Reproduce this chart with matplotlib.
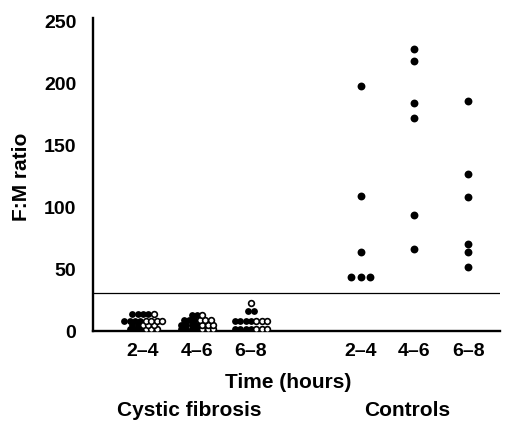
import numpy as np
import matplotlib.pyplot as plt

plt.rcParams['font.family'] = ['Liberation Sans', 'DejaVu Sans']
plt.rcParams['font.weight'] = 'bold'

# group positions and labels
positions = [1, 2, 3, 5.03, 6.02, 7.02]
tick_labels = ["2\u20134", "4\u20136", "6\u20138", "2\u20134", "4\u20136", "6\u20138"]

# cystic fibrosis F:M ratios (filled and open symbols)
cf_24_filled = [14, 14, 14, 14, 8, 8, 8, 8, 5, 5, 2, 2, 2]
cf_24_open = [14, 8, 8, 8, 8, 5, 5, 5, 2, 2, 2]
cf_46_filled = [13, 13, 9, 9, 9, 5, 5, 5, 5, 2, 2, 2, 2]
cf_46_open = [13, 9, 9, 9, 5, 5, 5, 2, 2, 2]
cf_68_filled = [16, 16, 8, 8, 8, 8, 2, 2, 2, 2]
cf_68_open = [23, 8, 8, 8, 2, 2, 2]

# controls
ctl_24 = [198, 109, 64, 44, 44, 44]
ctl_46 = [228, 218, 184, 172, 94, 66]
ctl_68 = [186, 127, 108, 70, 64, 52]

threshold = 31


def stack(x0, filled, opened, step):
    # lay dots of equal value side by side, filled first then open
    fx, fy, ox, oy = [], [], [], []
    for v in sorted(set(filled) | set(opened)):
        nf = filled.count(v)
        no = opened.count(v)
        n = nf + no
        xs = x0 + (np.arange(n) - (n - 1) / 2) * step
        fx += list(xs[:nf]); fy += [v] * nf
        ox += list(xs[nf:]); oy += [v] * no
    return fx, fy, ox, oy


fig = plt.figure(figsize=(5.09, 4.21), dpi=100)
ax = fig.add_axes([93 / 509, 90 / 421, 407 / 509, 313 / 421])

cf_groups = [(cf_24_filled, cf_24_open), (cf_46_filled, cf_46_open), (cf_68_filled, cf_68_open)]
for x0, (f, o) in zip(positions[:3], cf_groups):
    fx, fy, ox, oy = stack(x0, f, o, 0.1)
    ax.scatter(fx, fy, s=24, color='black', zorder=3, linewidths=0)
    ax.scatter(ox, oy, s=17, facecolor='white', edgecolor='black', linewidths=1.2, zorder=4)

for x0, vals in zip(positions[3:], [ctl_24, ctl_46, ctl_68]):
    fx, fy, ox, oy = stack(x0, vals, [], 0.17)
    ax.scatter(fx, fy, s=32, color='black', zorder=3, linewidths=0)

ax.axhline(threshold, color='black', lw=0.9)

ax.set_xlim(0.074, 7.61)
ax.set_ylim(0, 253)
ax.set_yticks([0, 50, 100, 150, 200, 250])
ax.set_xticks(positions)
ax.set_xticklabels(tick_labels)
ax.tick_params(axis='y', length=0, pad=12, labelsize=14)
ax.tick_params(axis='x', length=0, pad=9, labelsize=14)
for lab in ax.get_xticklabels() + ax.get_yticklabels():
    lab.set_fontweight('bold')

ax.spines['top'].set_visible(False)
ax.spines['right'].set_visible(False)
ax.spines['left'].set_linewidth(1.7)
ax.spines['bottom'].set_linewidth(1.7)

fig.text(22 / 509, 1 - 177 / 421, "F:M ratio", rotation=90, ha='center', va='center',
         fontsize=15, fontweight='bold')
fig.text(288 / 509, 1 - 383 / 421, "Time (hours)", ha='center', va='center',
         fontsize=15, fontweight='bold')
fig.text(189 / 509, 1 - 411 / 421, "Cystic fibrosis", ha='center', va='center',
         fontsize=15, fontweight='bold')
fig.text(407 / 509, 1 - 411 / 421, "Controls", ha='center', va='center',
         fontsize=15, fontweight='bold')

fig.savefig("out.png", dpi=100)
